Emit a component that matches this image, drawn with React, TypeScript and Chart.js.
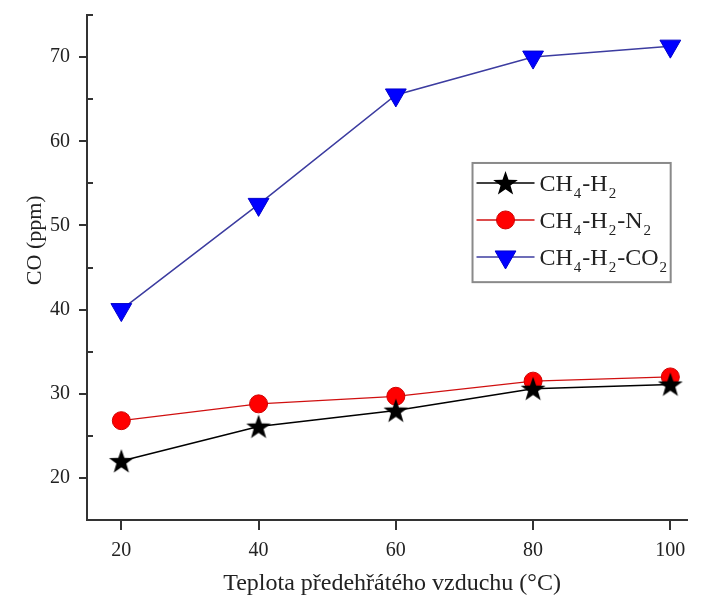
import React, { useEffect, useRef } from 'react';
import { Chart, registerables } from 'chart.js';

Chart.register(...registerables);

// ---- data ----
const temperatures = [20, 40, 60, 80, 100];
const ch4h2 = [22.0, 26.1, 28.0, 30.6, 31.1];
const ch4h2n2 = [26.8, 28.8, 29.7, 31.5, 32.0];
const ch4h2co2 = [40.0, 52.5, 65.5, 70.0, 71.3];

const xTickValues = [20, 40, 60, 80, 100];
const yMajorTicks = [20, 30, 40, 50, 60, 70];
const yMinorTicks = [25, 35, 45, 55, 65, 75];

// "_d" = subscript digit
const seriesLabels = ['CH_4-H_2', 'CH_4-H_2-N_2', 'CH_4-H_2-CO_2'];
const xTitle = 'Teplota předehřátého vzduchu (°C)';
const yTitle = 'CO (ppm)';

const FONT = '"Liberation Serif", "Times New Roman", serif';
const AXIS = '#333333';

function starPath(ctx: CanvasRenderingContext2D, cx: number, cy: number, R: number, r: number) {
  ctx.beginPath();
  for (let i = 0; i < 10; i++) {
    const a = -Math.PI / 2 + (i * Math.PI) / 5;
    const rad = i % 2 === 0 ? R : r;
    const px = cx + Math.cos(a) * rad;
    const py = cy + Math.sin(a) * rad;
    if (i === 0) ctx.moveTo(px, py);
    else ctx.lineTo(px, py);
  }
  ctx.closePath();
}

function makeStarCanvas(): HTMLCanvasElement {
  const c = document.createElement('canvas');
  c.width = 28;
  c.height = 28;
  const g = c.getContext('2d')!;
  starPath(g, 14, 15, 13, 5.2);
  g.fillStyle = '#000';
  g.fill();
  return c;
}

function drawMarker(ctx: CanvasRenderingContext2D, kind: string, x: number, y: number) {
  ctx.save();
  if (kind === 'star') {
    starPath(ctx, x, y + 1, 13, 5.2);
    ctx.fillStyle = '#000';
    ctx.fill();
  } else if (kind === 'circle') {
    ctx.beginPath();
    ctx.arc(x, y, 9, 0, Math.PI * 2);
    ctx.fillStyle = '#ff0000';
    ctx.fill();
    ctx.strokeStyle = '#d00000';
    ctx.lineWidth = 1;
    ctx.stroke();
  } else {
    const r = 12;
    ctx.beginPath();
    ctx.moveTo(x, y + r);
    ctx.lineTo(x + r * Math.sin((2 * Math.PI) / 3), y - r / 2);
    ctx.lineTo(x - r * Math.sin((2 * Math.PI) / 3), y - r / 2);
    ctx.closePath();
    ctx.fillStyle = '#0000ff';
    ctx.fill();
    ctx.strokeStyle = '#0000cc';
    ctx.lineWidth = 1;
    ctx.stroke();
  }
  ctx.restore();
}

function drawRichText(ctx: CanvasRenderingContext2D, text: string, x: number, y: number, size: number) {
  let cx = x;
  const parts: { t: string; sub: boolean }[] = [];
  let buf = '';
  for (let i = 0; i < text.length; i++) {
    if (text[i] === '_' && i + 1 < text.length) {
      if (buf) parts.push({ t: buf, sub: false });
      buf = '';
      parts.push({ t: text[i + 1], sub: true });
      i++;
    } else buf += text[i];
  }
  if (buf) parts.push({ t: buf, sub: false });
  ctx.textBaseline = 'alphabetic';
  ctx.textAlign = 'left';
  for (const p of parts) {
    if (p.sub) {
      ctx.font = `${Math.round(size * 0.62)}px ${FONT}`;
      ctx.fillText(p.t, cx + 1, y + size * 0.3);
      cx += ctx.measureText(p.t).width + 2;
    } else {
      ctx.font = `${size}px ${FONT}`;
      ctx.fillText(p.t, cx, y);
      cx += ctx.measureText(p.t).width;
    }
  }
}

const decorPlugin = {
  id: 'decor',
  afterDraw(chart: any) {
    const { ctx, chartArea } = chart;
    const xs = chart.scales.x;
    const ys = chart.scales.y;
    const w = chartArea.right - chartArea.left;
    const h = chartArea.bottom - chartArea.top;
    ctx.save();
    // ticks
    ctx.strokeStyle = AXIS;
    ctx.lineWidth = 2;
    ctx.beginPath();
    for (const v of yMajorTicks) {
      const py = Math.round(ys.getPixelForValue(v));
      ctx.moveTo(chartArea.left - 8, py);
      ctx.lineTo(chartArea.left, py);
    }
    for (const v of yMinorTicks) {
      const py = Math.round(ys.getPixelForValue(v));
      ctx.moveTo(chartArea.left, py);
      ctx.lineTo(chartArea.left + 6, py);
    }
    for (const v of xTickValues) {
      const px = Math.round(xs.getPixelForValue(v));
      ctx.moveTo(px, chartArea.bottom);
      ctx.lineTo(px, chartArea.bottom + 10);
    }
    ctx.stroke();

    // axis titles
    ctx.fillStyle = '#222';
    ctx.font = `24px ${FONT}`;
    ctx.textAlign = 'center';
    ctx.textBaseline = 'middle';
    ctx.fillText(xTitle, chartArea.left + 0.508 * w, chartArea.bottom + 64);
    ctx.save();
    ctx.translate(35, chartArea.top + 0.446 * h);
    ctx.rotate(-Math.PI / 2);
    ctx.font = `22px ${FONT}`;
    ctx.fillText(yTitle, 0, 0);
    ctx.restore();

    // legend
    const bx = chartArea.left + 0.642 * w;
    const by = chartArea.top + 0.293 * h;
    const bw = 0.33 * w;
    const bh = 0.236 * h;
    ctx.fillStyle = '#fff';
    ctx.fillRect(bx, by, bw, bh);
    ctx.strokeStyle = '#8a8a8a';
    ctx.lineWidth = 2;
    ctx.strokeRect(bx, by, bw, bh);
    const kinds = ['star', 'circle', 'triangle'];
    const colors = ['#000000', '#d01010', '#3c3ca0'];
    chart.data.datasets.forEach((ds: any, i: number) => {
      const ry = by + 20 + i * 37;
      ctx.strokeStyle = colors[i];
      ctx.lineWidth = 1.5;
      ctx.beginPath();
      ctx.moveTo(bx + 4, ry);
      ctx.lineTo(bx + 62, ry);
      ctx.stroke();
      drawMarker(ctx, kinds[i], bx + 33, ry);
      ctx.fillStyle = '#222';
      drawRichText(ctx, ds.label, bx + 67, ry + 8, 24);
    });
    ctx.restore();
  },
};

export default function App() {
  const ref = useRef<HTMLCanvasElement>(null);
  useEffect(() => {
    if (!ref.current) return;
    const star = makeStarCanvas();
    const chart = new Chart(ref.current, {
      type: 'line',
      data: {
        datasets: [
          {
            label: seriesLabels[0],
            data: temperatures.map((t, i) => ({ x: t, y: ch4h2[i] })),
            borderColor: '#000000',
            borderWidth: 1.5,
            pointStyle: star as any,
            pointRadius: 13,
            backgroundColor: '#000',
          },
          {
            label: seriesLabels[1],
            data: temperatures.map((t, i) => ({ x: t, y: ch4h2n2[i] })),
            borderColor: '#d01010',
            borderWidth: 1.3,
            pointStyle: 'circle',
            pointRadius: 9,
            pointBackgroundColor: '#ff0000',
            pointBorderColor: '#d00000',
            pointBorderWidth: 1,
          },
          {
            label: seriesLabels[2],
            data: temperatures.map((t, i) => ({ x: t, y: ch4h2co2[i] })),
            borderColor: '#3c3ca0',
            borderWidth: 1.5,
            pointStyle: 'triangle',
            pointRotation: 180,
            pointRadius: 12,
            pointBackgroundColor: '#0000ff',
            pointBorderColor: '#0000cc',
            pointBorderWidth: 1,
          },
        ],
      },
      options: {
        animation: false,
        responsive: false,
        devicePixelRatio: 1,
        layout: { padding: { left: 0, top: 15, right: 14, bottom: 0 } },
        plugins: { legend: { display: false }, tooltip: { enabled: false } },
        scales: {
          x: {
            type: 'linear',
            min: 15,
            max: 102.5,
            afterFit: (s: any) => {
              s.height = 76;
              s.paddingLeft = 0;
              s.paddingRight = 0;
            },
            afterBuildTicks: (s: any) => {
              s.ticks = xTickValues.map((v) => ({ value: v }));
            },
            grid: { display: false, drawTicks: false },
            border: { display: true, color: AXIS, width: 2 },
            ticks: { color: '#222', font: { family: FONT, size: 20 }, padding: 19 },
          },
          y: {
            type: 'linear',
            min: 15,
            max: 75,
            afterFit: (s: any) => {
              s.width = 87;
              s.paddingTop = 0;
              s.paddingBottom = 0;
            },
            afterBuildTicks: (s: any) => {
              s.ticks = yMajorTicks.map((v) => ({ value: v }));
            },
            grid: { display: false, drawTicks: false },
            border: { display: true, color: AXIS, width: 2 },
            ticks: { color: '#222', font: { family: FONT, size: 20 }, padding: 17 },
          },
        },
      },
      plugins: [decorPlugin],
    });
    return () => chart.destroy();
  }, []);
  return (
    <div style={{ position: 'absolute', left: 0, top: 0, width: 702, height: 596, background: '#fff' }}>
      <canvas ref={ref} width={702} height={596} />
    </div>
  );
}
